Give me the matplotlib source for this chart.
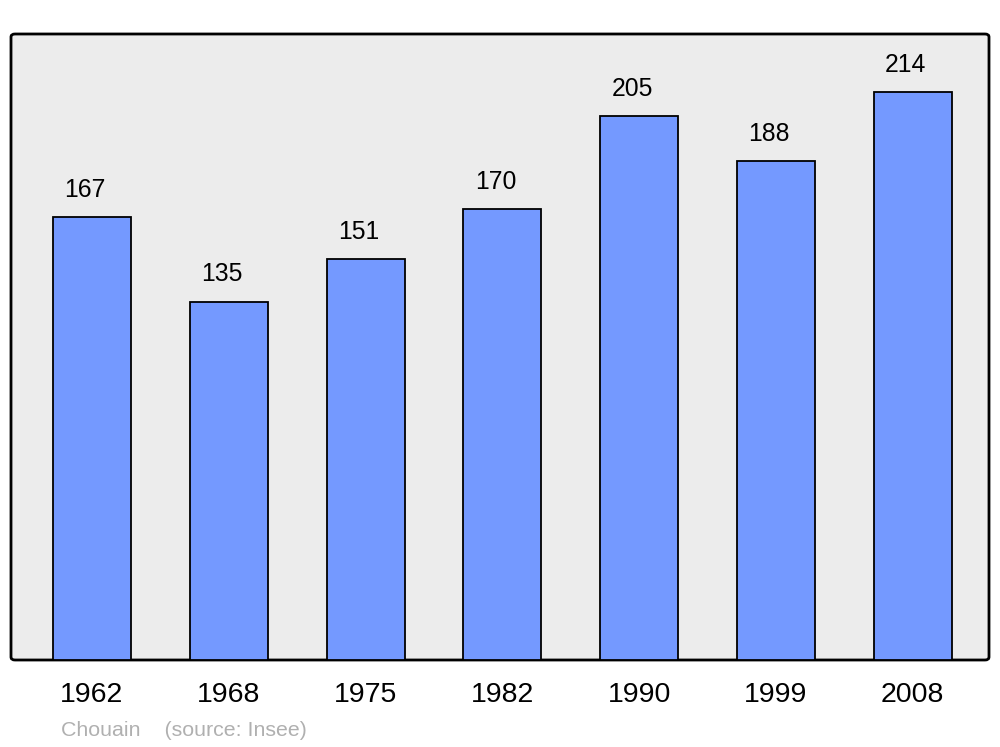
import numpy as np
import matplotlib
matplotlib.use("Agg")
import matplotlib.pyplot as plt
from matplotlib.patches import FancyBboxPatch

years = ['1962', '1968', '1975', '1982', '1990', '1999', '2008']
population = [167, 135, 151, 170, 205, 188, 214]
credit = 'Chouain    (source: Insee)'

plt.rcParams['font.family'] = ['Liberation Sans', 'DejaVu Sans']

fig = plt.figure(figsize=(10, 7.47), dpi=100)
W, H = 1000, 747
# axes area in pixels: x 11..989, y 34..660
ax = fig.add_axes([11 / W, (H - 660) / H, 978 / W, 626 / H])
ax.set_facecolor('none')
ax.set_zorder(2)
for s in ax.spines.values():
    s.set_visible(False)

# rounded grey background box
bg = FancyBboxPatch((11 / W, (H - 660) / H), 978 / W, 626 / H,
                    boxstyle='round,pad=0,rounding_size=0.004',
                    transform=fig.transFigure, facecolor='#ececec',
                    edgecolor='black', linewidth=2, zorder=-1)
fig.patches.append(bg)

x = np.arange(len(years))
ax.bar(x, population, width=0.57, color='#7499ff', edgecolor='black',
       linewidth=1.3, zorder=2)

for xi, v in zip(x, population):
    ax.annotate(str(v), (xi, v), xytext=(-5, 11), textcoords='offset points',
                ha='center', va='bottom', fontsize=17.8, color='black')

ax.set_xlim(-0.592, 6.557)
ax.set_ylim(0, 235.9)
ax.set_yticks([])
ax.set_xticks(x)
ax.set_xticklabels(years, fontsize=20.5)
ax.tick_params(axis='x', length=0, pad=16)

fig.text(61 / W, 1 - 730 / H, credit, fontsize=15.4, color='#b0b0b0',
         ha='left', va='center')

fig.savefig('out.png', dpi=100)
